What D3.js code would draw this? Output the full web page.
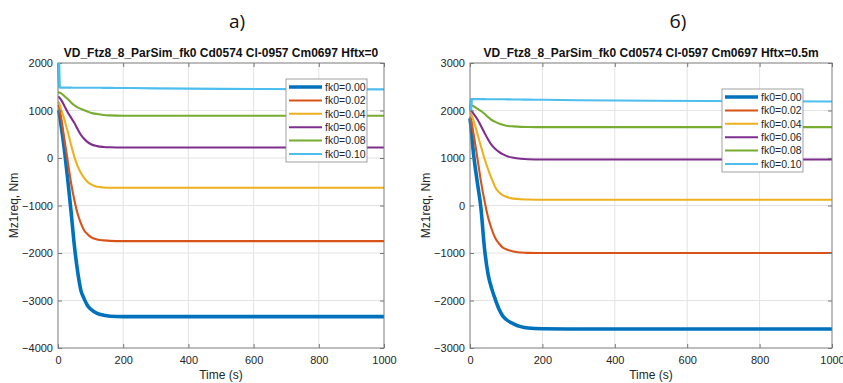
<!DOCTYPE html>
<html>
<head>
<meta charset="utf-8">
<style>
body { margin: 0; background: #fff; }
svg { font-family: "Liberation Sans", Arial, sans-serif; }
.tick text { fill: #262626; font-size: 11px; }
</style>
</head>
<body>
<div id="target"></div>
<script src="https://cdn.jsdelivr.net/npm/d3@7.8.3/dist/d3.min.js"></script>
<script>
// two MATLAB-style panels, fk0 sweep of Mz1req over time

const width = 843;
const height = 383;

const seriesNames = ["fk0=0.00", "fk0=0.02", "fk0=0.04", "fk0=0.06", "fk0=0.08", "fk0=0.10"];
const colors = ["#0072BD", "#D95319", "#EDB120", "#7E2F8E", "#77AC30", "#4DBEEE"];

const time = [0, 2, 10, 20, 30, 40, 50, 60, 70, 80, 90, 100, 120, 140, 160, 200, 300, 500, 1000];

// panel a) Hftx=0
const a_fk000 = [1010, 990, 660, 150, -460, -1120, -1830, -2380, -2780, -2960, -3100, -3180, -3270, -3310, -3330, -3340, -3340, -3340, -3340];
const a_fk002 = [1116, 1100, 830, 380, -70, -520, -880, -1170, -1370, -1520, -1600, -1660, -1715, -1735, -1745, -1750, -1750, -1750, -1750];
const a_fk004 = [1185, 1175, 1010, 800, 550, 280, 30, -170, -310, -420, -500, -550, -605, -620, -625, -625, -625, -625, -625];
const a_fk006 = [1291, 1285, 1220, 1090, 960, 850, 740, 610, 490, 405, 340, 295, 250, 232, 225, 220, 220, 220, 220];
const a_fk008 = [1383, 1382, 1360, 1300, 1240, 1170, 1110, 1065, 1035, 1005, 980, 955, 925, 905, 897, 890, 890, 890, 890];
const a_fk010 = [2000, 1485, 1482, 1482, 1481, 1481, 1480, 1480, 1480, 1480, 1479, 1479, 1478, 1477, 1476, 1474, 1466, 1456, 1445];

// panel б) Hftx=0.5m
const b_fk000 = [1838, 1700, 1070, 500, -40, -900, -1450, -1750, -1980, -2180, -2320, -2400, -2490, -2550, -2580, -2595, -2600, -2600, -2600];
const b_fk002 = [1872, 1830, 1500, 1020, 520, 100, -250, -500, -690, -800, -880, -920, -970, -990, -998, -1000, -1000, -1000, -1000];
const b_fk004 = [1943, 1935, 1780, 1520, 1250, 990, 760, 560, 380, 280, 220, 185, 145, 130, 125, 120, 120, 120, 120];
const b_fk006 = [2013, 2005, 1930, 1820, 1680, 1530, 1390, 1270, 1190, 1130, 1080, 1045, 1005, 985, 975, 970, 970, 970, 970];
const b_fk008 = [2118, 2115, 2090, 2040, 1990, 1930, 1860, 1800, 1760, 1725, 1700, 1680, 1665, 1655, 1652, 1650, 1650, 1650, 1650];
const b_fk010 = [2000, 2240, 2240, 2240, 2239, 2239, 2238, 2237, 2237, 2236, 2236, 2235, 2232, 2230, 2228, 2225, 2215, 2205, 2190];

const xTicks = [0, 200, 400, 600, 800, 1000];
const aYTicks = [-4000, -3000, -2000, -1000, 0, 1000, 2000];
const bYTicks = [-3000, -2000, -1000, 0, 1000, 2000, 3000];

const svg = d3.select("#target").append("svg")
    .attr("width", width)
    .attr("height", height);

function drawPanel(p) {
    const x = d3.scaleLinear().domain([0, 1000]).range([p.left, p.right]);
    const y = d3.scaleLinear().domain(p.yDomain).range([p.bottom, p.top]);
    const g = svg.append("g");

    // grid
    g.append("g").selectAll("line.gx").data(xTicks.slice(1, -1)).join("line")
        .attr("x1", d => x(d)).attr("x2", d => x(d))
        .attr("y1", p.top).attr("y2", p.bottom)
        .attr("stroke", "#e3e3e3").attr("stroke-width", 1);
    g.append("g").selectAll("line.gy").data(p.yTicks.slice(1, -1)).join("line")
        .attr("x1", p.left).attr("x2", p.right)
        .attr("y1", d => y(d)).attr("y2", d => y(d))
        .attr("stroke", "#e3e3e3").attr("stroke-width", 1);

    // clip a bit wider on the left so the t=0 spike still shows
    const clipId = "clip" + p.id;
    svg.append("clipPath").attr("id", clipId).append("rect")
        .attr("x", p.left - 2).attr("y", p.top)
        .attr("width", p.right - p.left + 2).attr("height", p.bottom - p.top);

    const line = d3.line()
        .x((d, i) => x(time[i]))
        .y(d => y(d))
        .curve(d3.curveMonotoneX);

    p.series.forEach((s, k) => {
        g.append("path")
            .datum(s)
            .attr("clip-path", `url(#${clipId})`)
            .attr("fill", "none")
            .attr("stroke", colors[k])
            .attr("stroke-width", k == 0 ? 3.6 : 2.1)
            .attr("d", line);
    });

    // axes, ticks inward
    g.append("g").attr("transform", `translate(0,${p.bottom})`)
        .call(d3.axisBottom(x).tickValues(xTicks).tickSize(-4).tickPadding(8).tickFormat(d3.format("d")))
        .call(a => a.select(".domain").remove());
    g.append("g").attr("transform", `translate(${p.left},0)`)
        .call(d3.axisLeft(y).tickValues(p.yTicks).tickSize(-4).tickPadding(5).tickFormat(d3.format("d")))
        .call(a => a.select(".domain").remove());
    g.append("g").attr("transform", `translate(${p.right},0)`)
        .call(d3.axisRight(y).tickValues(p.yTicks).tickSize(-4).tickFormat(""))
        .call(a => a.select(".domain").remove());
    g.append("g").attr("transform", `translate(0,${p.top})`)
        .call(d3.axisTop(x).tickValues(xTicks).tickSize(-4).tickFormat(""))
        .call(a => a.select(".domain").remove());
    g.selectAll(".tick line").attr("stroke", "#777");

    g.append("rect")
        .attr("x", p.left).attr("y", p.top)
        .attr("width", p.right - p.left).attr("height", p.bottom - p.top)
        .attr("fill", "none").attr("stroke", "#7a7a7a").attr("stroke-width", 1);

    // redraw the spike of the top series over the frame
    g.append("path")
        .datum(p.series[5].slice(0, 2))
        .attr("fill", "none")
        .attr("stroke", colors[5])
        .attr("stroke-width", 2.5)
        .attr("d", d3.line().x((d, i) => x(time[i]) + 1).y(d => y(d)));

    // texts
    g.append("text").attr("x", p.panelX).attr("y", 28)
        .attr("text-anchor", "middle")
        .style("font-family", "'Open Sans', sans-serif")
        .style("font-size", "19px").attr("fill", "#111")
        .text(p.panelLabel);
    g.append("text").attr("x", (p.left + p.right) / 2).attr("y", 57)
        .attr("text-anchor", "middle")
        .style("font-size", "12px").style("font-weight", "bold").attr("fill", "#111")
        .text(p.title);
    g.append("text").attr("x", (p.left + p.right) / 2).attr("y", 379)
        .attr("text-anchor", "middle")
        .style("font-size", "12px").attr("fill", "#262626")
        .text("Time (s)");
    g.append("text")
        .attr("transform", `translate(${p.ylabelX},${(p.top + p.bottom) / 2}) rotate(-90)`)
        .attr("text-anchor", "middle")
        .style("font-size", "12px").attr("fill", "#262626")
        .text("Mz1req, Nm");

    // legend
    const lg = g.append("g").attr("transform", `translate(${p.legX},${p.legY})`);
    lg.append("rect").attr("width", 81).attr("height", 83)
        .attr("fill", "#fff").attr("stroke", "#8a8a8a").attr("stroke-width", 0.8);
    seriesNames.forEach((name, k) => {
        const yy = 8 + k * 13.4;
        lg.append("line").attr("x1", 3).attr("x2", 36).attr("y1", yy).attr("y2", yy)
            .attr("stroke", colors[k]).attr("stroke-width", k == 0 ? 3.5 : 2);
        lg.append("text").attr("x", 39).attr("y", yy + 3.8)
            .style("font-size", "10.5px").attr("fill", "#262626")
            .text(name);
    });
}

drawPanel({
    id: "a", left: 58, right: 384, top: 63, bottom: 348,
    yDomain: [-4000, 2000], yTicks: aYTicks,
    series: [a_fk000, a_fk002, a_fk004, a_fk006, a_fk008, a_fk010],
    panelLabel: "a)", panelX: 237,
    title: "VD_Ftz8_8_ParSim_fk0 Cd0574 Cl-0957 Cm0697 Hftx=0",
    ylabelX: 18, legX: 286, legY: 79
});

drawPanel({
    id: "b", left: 470, right: 832, top: 63, bottom: 348,
    yDomain: [-3000, 3000], yTicks: bYTicks,
    series: [b_fk000, b_fk002, b_fk004, b_fk006, b_fk008, b_fk010],
    panelLabel: "б)", panelX: 678,
    title: "VD_Ftz8_8_ParSim_fk0 Cd0574 Cl-0597 Cm0697 Hftx=0.5m",
    ylabelX: 430, legX: 722, legY: 89
});
</script>
</body>
</html>
